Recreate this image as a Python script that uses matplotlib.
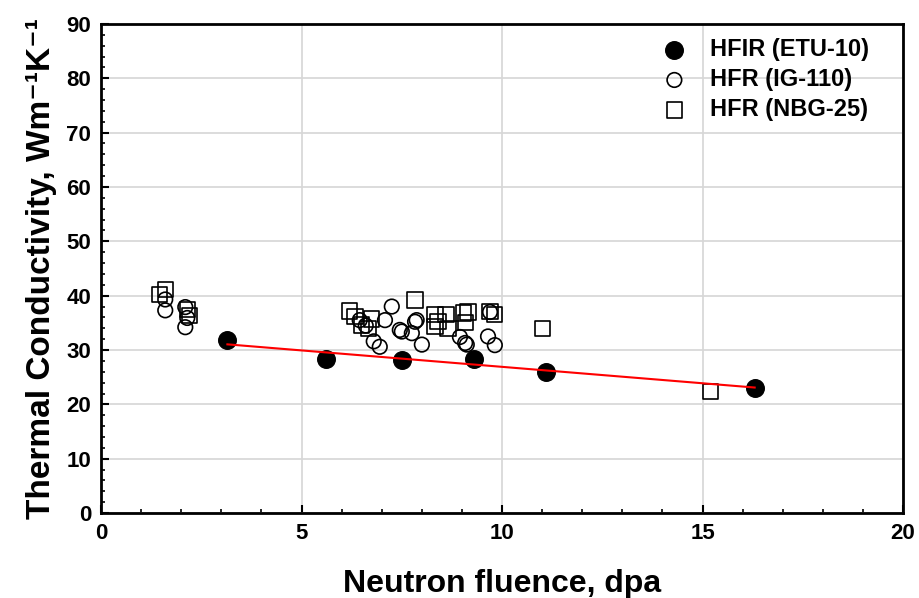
import numpy as np
import matplotlib.pyplot as plt
from matplotlib.ticker import MultipleLocator

plt.rcParams['font.family'] = ['Liberation Sans', 'DejaVu Sans']
plt.rcParams['font.weight'] = 'bold'

# HFIR (ETU-10)
hfir_x = [3.15, 5.6, 7.5, 9.3, 11.1, 16.3]
hfir_y = [31.8, 28.3, 28.2, 28.3, 26.0, 23.1]

# HFR (IG-110)
ig_x = [1.6, 1.6, 2.1, 2.15, 2.1, 6.45, 6.6, 6.8, 6.95, 7.08, 7.25, 7.45, 7.5, 7.75,
        7.83, 7.87, 8.0, 8.95, 9.08, 9.12, 9.65, 9.7, 9.82]
ig_y = [39.3, 37.3, 34.2, 35.9, 37.9, 35.5, 34.5, 31.6, 30.6, 35.5, 38.0, 33.7, 33.4, 33.1,
        35.2, 35.5, 31.0, 32.4, 31.3, 31.0, 32.5, 37.0, 30.9]

# HFR (NBG-25)
nbg_x = [1.45, 1.6, 2.15, 2.2, 6.2, 6.33, 6.5, 6.66, 6.75, 7.83, 8.33, 8.33, 8.4, 8.6,
         8.65, 9.03, 9.08, 9.15, 9.7, 9.82, 11.0, 15.2]
nbg_y = [40.2, 41.1, 37.4, 36.3, 37.2, 36.2, 34.6, 34.0, 35.7, 39.2, 36.5, 34.3, 35.2, 36.5,
         34.0, 36.8, 35.0, 37.0, 37.1, 36.5, 33.9, 22.3]

fig = plt.figure(figsize=(9.19, 5.98), dpi=100)
ax = fig.add_axes([0.110, 0.142, 0.8726, 0.818])

ax.grid(True, color='#d6d6d6', linewidth=1.2, zorder=0)
ax.set_axisbelow(True)

ax.scatter(hfir_x, hfir_y, s=160, color='black', zorder=4, label='HFIR (ETU-10)')
ax.scatter(ig_x, ig_y, s=110, facecolors='none', edgecolors='black', linewidths=1.2,
           zorder=3, label='HFR (IG-110)')
ax.scatter(nbg_x, nbg_y, s=120, marker='s', facecolors='none', edgecolors='black',
           linewidths=1.2, zorder=3, label='HFR (NBG-25)')

# linear fit through HFIR points
k, b = np.polyfit(hfir_x, hfir_y, 1)
fx = np.array([min(hfir_x), max(hfir_x)])
ax.plot(fx, k * fx + b, color='red', linewidth=1.5, zorder=5)

ax.set_xlim(0, 20)
ax.set_ylim(0, 90)
ax.xaxis.set_major_locator(MultipleLocator(5))
ax.xaxis.set_minor_locator(MultipleLocator(1))
ax.yaxis.set_major_locator(MultipleLocator(10))
ax.yaxis.set_minor_locator(MultipleLocator(2))
ax.tick_params(which='both', direction='in', top=False, right=False, labelsize=16)
ax.tick_params(which='major', length=6, width=1.5, pad=7)
ax.tick_params(which='minor', length=3, width=1.2)
for s in ax.spines.values():
    s.set_linewidth(2)

ax.set_xlabel('Neutron fluence, dpa', fontsize=23, fontweight='bold', labelpad=18)
ax.set_ylabel('Thermal Conductivity, Wm⁻¹K⁻¹', fontsize=24,
              fontweight='bold', labelpad=7)

leg = ax.legend(loc='upper right', frameon=False, fontsize=17, handletextpad=0.5,
                labelspacing=0.3, borderaxespad=0.2, bbox_to_anchor=(0.975, 1.0))

fig.savefig('out.png', dpi=100)
